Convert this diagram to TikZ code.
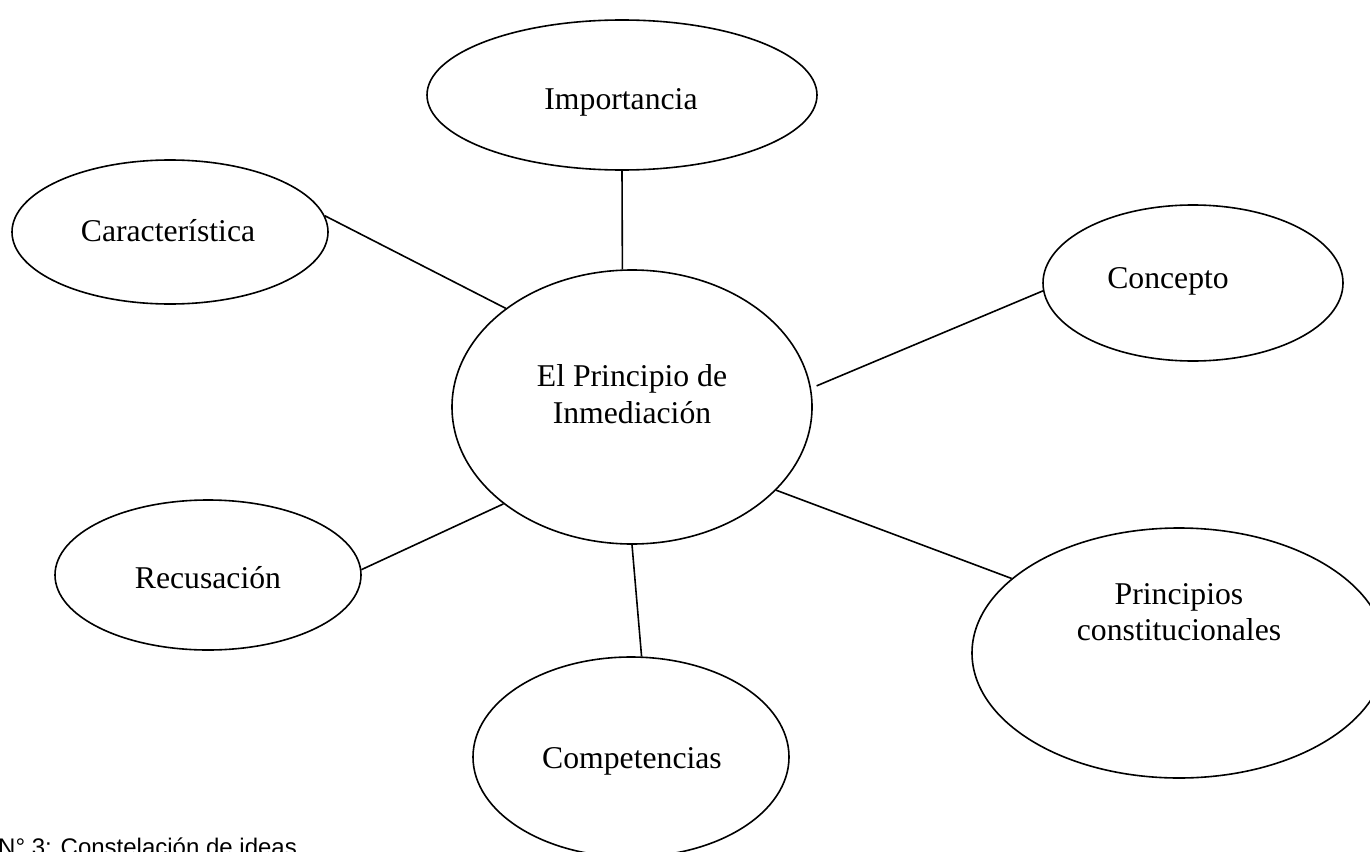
\documentclass[tikz,border=0pt]{standalone}
\usepackage{fontspec}
\setmainfont{Liberation Serif}
\newfontfamily\capfont{Liberation Sans}
\usetikzlibrary{shapes.geometric}
\tikzset{
  bubble/.style={draw=black, line width=1.6pt, ellipse, inner sep=0pt, fill=none},
  lbl/.style={font=\fontsize{31.7}{36.5}\selectfont, inner sep=0pt, align=center, text=black},
  link/.style={draw=black, line width=1.6pt}
}
\begin{document}
\begin{tikzpicture}[x=1pt,y=-1pt]
\useasboundingbox[fill=white] (0,0) rectangle (1370,851);
% ellipses
\node[bubble, minimum width=390pt, minimum height=150pt] (imp) at (622,95) {};
\node[bubble, minimum width=316pt, minimum height=144pt] (car) at (170,232) {};
\node[bubble, minimum width=300pt, minimum height=156pt] (con) at (1193,283) {};
\node[bubble, minimum width=360pt, minimum height=274pt] (cen) at (632,407) {};
\node[bubble, minimum width=306pt, minimum height=150pt] (rec) at (208,575) {};
\node[bubble, minimum width=316pt, minimum height=200pt] (com) at (631,757) {};
\node[bubble, minimum width=414pt, minimum height=250pt] (pri) at (1179,653) {};
% labels
\node[lbl, anchor=base] (timp) at (621,109) {Importancia};
\node[lbl, anchor=base] (tcar) at (168,241) {Característica};
\node[lbl, anchor=base] (tcon) at (1168,288) {Concepto};
\node[lbl] (tcen) at (632,394) {El Principio de\\Inmediación};
\node[lbl, anchor=base] (trec) at (208,588) {Recusación};
\node[lbl, anchor=base] (tcom) at (632,768) {Competencias};
\node[lbl] (tpri) at (1179,612) {Principios\\constitucionales};
% connectors
\draw[link] (imp.south) -- (cen.94.2);
\draw[link] (car.6.9) -- (cen.142.6);
\draw[link, shorten <=6pt] (cen.6.5) -- (con.183);
\draw[link] (cen.-30.7) -- (pri.156.7);
\draw[link] (cen.217.6) -- (rec.2.2);
\draw[link] (cen.270) -- (com.84.3);
% caption (cut off by the lower edge, as in the reference)
\node[anchor=base west, inner sep=0pt, font=\capfont\fontsize{24}{28}\selectfont] (cap) at (-2,855) {N° 3: Constelación de ideas};
\end{tikzpicture}
\end{document}
